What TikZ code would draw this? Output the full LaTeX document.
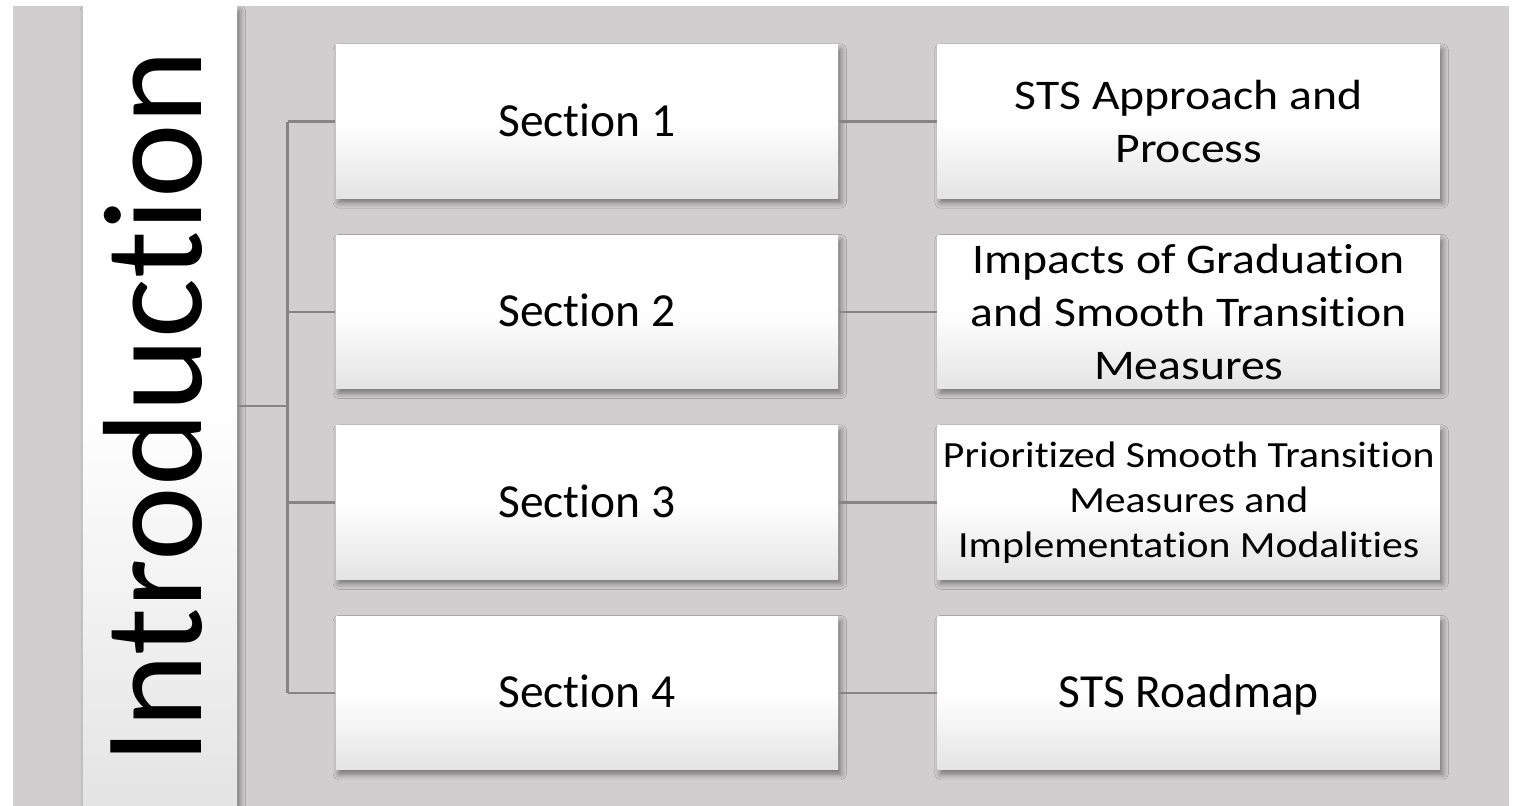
\documentclass[tikz,border=0pt]{standalone}
\usepackage{fontspec}
\setmainfont{Carlito}[Ligatures=NoCommon]
\newfontfamily\widefont{Carlito}[Ligatures=NoCommon, FakeStretch=1.13]
\usetikzlibrary{positioning,shadows.blur}
\definecolor{backgray}{HTML}{D0CECE}
\definecolor{boxlow}{HTML}{E4E4E4}
\definecolor{linegray}{HTML}{858585}
\tikzset{
	plate/.style={rectangle, top color=white, bottom color=boxlow, middle color=white,
		blur shadow={shadow xshift=0.8pt, shadow yshift=-1.3pt, shadow blur radius=1.6pt,
			shadow blur steps=6, shadow opacity=45}},
	secbox/.style={plate, minimum width=5.02cm, minimum height=1.53cm, inner sep=0pt,
		align=center, font=\fontsize{13.5}{16}\selectfont},
	oneline/.style={text height=8.5pt, text depth=0pt},
	widetext/.style={font=\widefont\fontsize{12}{15}\selectfont},
	conn/.style={draw=linegray, line width=0.85pt},
}

\begin{document}
\begin{tikzpicture}[x=0.01cm, y=-0.01cm]
	\useasboundingbox (0,0) rectangle (1514,806);
	\fill[backgray] (13,6) rectangle (1509,806);
	\node[plate, minimum width=1.54cm, minimum height=8cm, inner sep=0pt] (intro) at (160,406) {};
	\node[rotate=90, anchor=base, inner sep=0pt, font=\fontsize{40.2}{48}\selectfont] (introtext) at (201,407) {Introduction};
	% sections
	\foreach \i/\y in {1/121.5, 2/312, 3/502.5, 4/693}
		\node[secbox, oneline] (sec\i) at (587,\y) {Section \i};
	% topics
	\node[secbox, widetext, right=0.98cm of sec1] (topic1) {STS Approach and\\Process};
	\node[secbox, widetext, right=0.98cm of sec2] (topic2) {Impacts of Graduation\\and Smooth Transition\\Measures};
	\node[secbox, right=0.98cm of sec3, font=\widefont\fontsize{10.5}{12.8}\selectfont] (topic3) {Prioritized Smooth Transition\\Measures and\\Implementation Modalities};
	\node[secbox, oneline, right=0.98cm of sec4] (topic4) {STS Roadmap};
	% connectors
	\draw[conn] (intro.east) -- ++(50,0) coordinate (hub);
	\draw[conn] (hub |- sec1.west) -- (hub |- sec4.west);
	\foreach \i in {1,...,4} {
		\draw[conn] (hub |- sec\i.west) -- (sec\i.west);
		\draw[conn] (sec\i.east) -- (topic\i.west);
	}
\end{tikzpicture}
\end{document}
